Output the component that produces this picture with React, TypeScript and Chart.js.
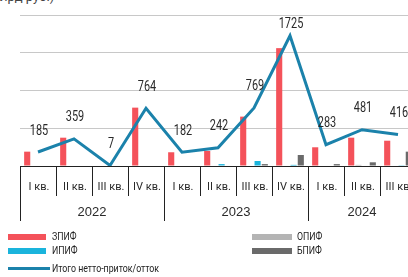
import React, { useEffect, useRef } from "react";
import { Chart, registerables } from "chart.js";

Chart.register(...registerables);

const quarters = ["I кв.", "II кв.", "III кв.", "IV кв.", "I кв.", "II кв.", "III кв.", "IV кв.", "I кв.", "II кв.", "III кв."];
const years = ["2022", "2022", "2022", "2022", "2023", "2023", "2023", "2023", "2024", "2024", "2024"];

const zpif = [190, 375, 0, 773, 182, 199, 654, 1561, 248, 375, 335];
const opif = [0, 0, 0, 0, 0, 0, 0, 0, 0, 15, 0];
const ipif = [0, 0, 0, 0, 0, 25, 66, 15, 0, 0, 10];
const bpif = [0, 0, 0, 0, 0, 0, 25, 146, 25, 49, 190];
const total = [185, 359, 7, 764, 182, 242, 769, 1725, 283, 481, 416];

const yMax = 2000;
const yStep = 500;

const COL_Z = "#f4525a";
const COL_I = "#1ab4dc";
const COL_O = "#b4b4b4";
const COL_B = "#6a6a6a";
const COL_LINE = "#1b82ab";
const SANS = "Roboto, 'Liberation Sans', sans-serif";

const decoPlugin = {
  id: "deco",
  afterDraw(chart: any) {
    const { ctx, chartArea, scales } = chart;
    const x = scales.x;
    const { bottom, top } = chartArea;
    const n = quarters.length;
    const w = x.getPixelForValue(1) - x.getPixelForValue(0);
    ctx.save();
    ctx.strokeStyle = "#222";
    ctx.lineWidth = 1;
    for (let i = 0; i <= n; i++) {
      const px = Math.round(x.getPixelForValue(i) - w / 2) + 0.5;
      const isYear = i === 0 || i === n || years[i] !== years[i - 1];
      ctx.beginPath();
      ctx.moveTo(px, bottom);
      ctx.lineTo(px, bottom + (isYear ? 55 : 30));
      ctx.stroke();
    }
    ctx.fillStyle = "#2a2a2a";
    ctx.textAlign = "center";
    ctx.textBaseline = "middle";
    ctx.font = `11px ${SANS}`;
    for (let i = 0; i < n; i++) {
      ctx.fillText(quarters[i], x.getPixelForValue(i) + 1, bottom + 21);
    }
    ctx.font = "13px 'Liberation Sans', Arial, sans-serif";
    let start = 0;
    for (let i = 1; i <= n; i++) {
      if (i === n || years[i] !== years[start]) {
        const cx = (x.getPixelForValue(start) + x.getPixelForValue(i - 1)) / 2;
        ctx.fillText(years[start], cx, bottom + 46);
        start = i;
      }
    }
    // data labels for the total line
    const idx = chart.data.datasets.findIndex((d: any) => d.type === "line");
    const meta = chart.getDatasetMeta(idx);
    ctx.font = `14px ${SANS}`;
    ctx.fillStyle = "#2a2a2a";
    meta.data.forEach((pt: any, i: number) => {
      const ly = Math.max(pt.y - 21, top + 9);
      ctx.save();
      ctx.translate(pt.x + 1, ly);
      ctx.scale(0.78, 1);
      ctx.fillText(String(total[i]), 0, 0);
      ctx.restore();
    });
    ctx.restore();
  },
};

export default function App() {
  const ref = useRef<HTMLCanvasElement | null>(null);
  useEffect(() => {
    if (!ref.current) return;
    const chart = new Chart(ref.current, {
      type: "bar",
      data: {
        labels: quarters,
        datasets: [
          { type: "line", label: "Итого нетто-приток/отток", data: total, borderColor: COL_LINE, borderWidth: 3, pointRadius: 0, tension: 0, fill: false, order: 0 } as any,
          { label: "ЗПИФ", data: zpif, backgroundColor: COL_Z, order: 1 },
          { label: "ОПИФ", data: opif, backgroundColor: COL_O, order: 1 },
          { label: "ИПИФ", data: ipif, backgroundColor: COL_I, order: 1 },
          { label: "БПИФ", data: bpif, backgroundColor: COL_B, order: 1 },
        ],
      },
      options: {
        responsive: false,
        animation: false,
        layout: { padding: { left: 20, top: 15, right: 24, bottom: 74 } },
        datasets: { bar: { categoryPercentage: 0.8, barPercentage: 0.85 } },
        plugins: { legend: { display: false }, tooltip: { enabled: false } },
        scales: {
          x: { display: false },
          y: {
            min: 0,
            max: yMax,
            ticks: { display: false, stepSize: yStep },
            border: { display: false },
            grid: {
              drawTicks: false,
              lineWidth: 1,
              color: (c: any) => (c.tick && c.tick.value === 0 ? "#222" : "#c8c8c8"),
            },
          },
        },
      },
      plugins: [decoPlugin],
    });
    return () => chart.destroy();
  }, []);

  const txt: React.CSSProperties = {
    position: "absolute",
    fontFamily: "Roboto, 'Liberation Sans', sans-serif",
    fontSize: 11,
    color: "#222",
    lineHeight: "12px",
    whiteSpace: "nowrap",
    transform: "scaleX(0.8)",
    transformOrigin: "left center",
  };
  const sw = (left: number, top: number, w: number, h: number, c: string): React.CSSProperties => ({
    position: "absolute", left, top, width: w, height: h, background: c,
  });

  return (
    <div style={{ position: "fixed", left: 0, top: 0, width: 408, height: 277, overflow: "hidden", background: "#fff" }}>
      <div style={{ ...txt, left: -14, top: -9, fontSize: 13, color: "#444", transform: "none" }}>(млрд руб.)</div>
      <canvas ref={ref} width={440} height={240} style={{ position: "absolute", left: 0, top: 0 }} />
      <div style={sw(8, 234, 38, 6, COL_Z)} />
      <div style={{ ...txt, left: 52, top: 231 }}>ЗПИФ</div>
      <div style={sw(8, 248, 38, 6, COL_I)} />
      <div style={{ ...txt, left: 52, top: 245 }}>ИПИФ</div>
      <div style={sw(8, 267, 42, 3, COL_LINE)} />
      <div style={{ ...txt, left: 52, top: 263 }}>Итого нетто-приток/отток</div>
      <div style={sw(252, 234, 40, 6, COL_O)} />
      <div style={{ ...txt, left: 297, top: 231 }}>ОПИФ</div>
      <div style={sw(252, 248, 40, 6, COL_B)} />
      <div style={{ ...txt, left: 297, top: 245 }}>БПИФ</div>
    </div>
  );
}
